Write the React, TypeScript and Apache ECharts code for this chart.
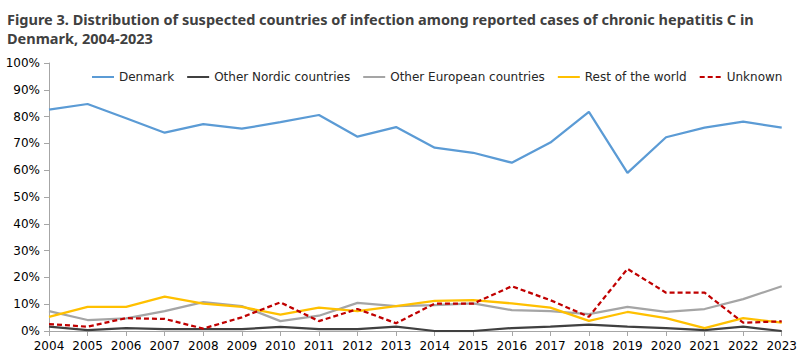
import React, { useEffect, useRef } from "react";
import * as echarts from "echarts";

const years = ["2004","2005","2006","2007","2008","2009","2010","2011","2012","2013","2014","2015","2016","2017","2018","2019","2020","2021","2022","2023"];
const denmark = [82.6,84.7,79.4,74.0,77.2,75.5,77.9,80.6,72.5,76.1,68.4,66.5,62.8,70.3,81.8,59.0,72.3,75.9,78.1,75.9];
const otherNordic = [1.6,0.3,1.1,0.7,0.7,0.7,1.5,0.7,0.7,1.6,0.0,0.0,1.1,1.6,2.4,1.6,1.1,0.3,1.6,0.0];
const otherEuropean = [7.4,4.1,4.7,7.4,10.8,9.3,3.7,5.7,10.5,9.3,9.7,10.3,7.8,7.4,6.3,9.0,7.1,8.2,11.9,16.7];
const restOfWorld = [5.3,9.0,9.0,12.8,10.2,9.0,6.1,8.7,7.4,9.3,11.2,11.5,10.3,8.7,3.8,7.1,4.8,1.1,4.8,3.1];
const unknown = [2.6,1.6,4.8,4.5,0.9,5.1,10.7,3.7,8.2,2.9,10.2,10.2,16.7,11.5,5.3,23.2,14.3,14.3,3.1,3.6];
const yTicks = [0,10,20,30,40,50,60,70,80,90,100];

const titleText = "Figure 3. Distribution of suspected countries of infection among reported cases of chronic hepatitis C in\nDenmark, 2004-2023";
const FONT = "DejaVu Sans";

export default function App() {
  const ref = useRef<HTMLDivElement>(null);
  useEffect(() => {
    document.body.style.margin = "0";
    const chart = echarts.init(ref.current!, undefined, { renderer: "svg" });
    const mk = (name: string, data: number[], color: string, dashed = false) => ({
      name,
      type: "line",
      data,
      symbol: "none",
      lineStyle: { color, width: 2.25, type: dashed ? [5, 3] : "solid" },
      itemStyle: { color },
      z: name === "Unknown" ? 5 : 3,
    });
    chart.setOption({
      animation: false,
      title: {
        text: titleText,
        left: 2,
        top: 4,
        textStyle: { fontFamily: "Noto Sans", fontWeight: "bold", fontSize: 14.5, color: "#404040", lineHeight: 19 },
      },
      legend: {
        top: 66,
        left: 86,
        itemWidth: 22,
        itemHeight: 10,
        itemGap: 12,
        itemStyle: { opacity: 0 },
        textStyle: { fontFamily: FONT, fontSize: 12, color: "#262626" },
        data: ["Denmark", "Other Nordic countries", "Other European countries", "Rest of the world", "Unknown"],
      },
      grid: { left: 49, right: 17, top: 63, bottom: 32, containLabel: false },
      xAxis: {
        type: "category",
        data: years,
        boundaryGap: false,
        axisLine: { lineStyle: { color: "#a6a6a6", width: 1 } },
        axisTick: { alignWithLabel: true, length: 5, lineStyle: { color: "#a6a6a6" } },
        axisLabel: { fontFamily: FONT, fontSize: 12, color: "#000", margin: 9, interval: 0 },
        splitLine: { show: false },
      },
      yAxis: {
        type: "value",
        min: yTicks[0],
        max: yTicks[yTicks.length - 1],
        interval: 10,
        axisLine: { show: true, lineStyle: { color: "#a6a6a6", width: 1 } },
        axisTick: { show: true, length: 5, lineStyle: { color: "#a6a6a6" } },
        axisLabel: { fontFamily: FONT, fontSize: 12, color: "#000", margin: 9, formatter: "{value}%" },
        splitLine: { show: false },
      },
      series: [
        mk("Denmark", denmark, "#5b9bd5"),
        mk("Other Nordic countries", otherNordic, "#404040"),
        mk("Other European countries", otherEuropean, "#a5a5a5"),
        mk("Rest of the world", restOfWorld, "#ffc000"),
        mk("Unknown", unknown, "#c00000", true),
      ],
    });
    return () => chart.dispose();
  }, []);
  return <div ref={ref} style={{ width: 800, height: 363 }} />;
}
